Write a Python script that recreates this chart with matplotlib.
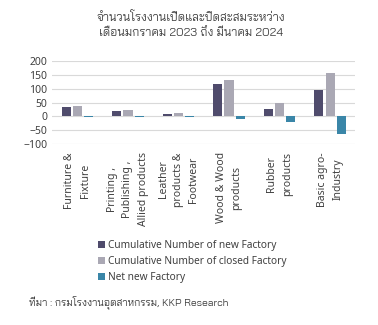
import matplotlib
matplotlib.use("Agg")
import matplotlib.pyplot as plt
import numpy as np

plt.rcParams['font.family'] = ['Noto Sans', 'Bai Jamjuree', 'DejaVu Sans']
thai = ['Bai Jamjuree', 'DejaVu Sans']

categories = [
    "Furniture &\nFixture",
    "Printing ,\nPublishing ,\nAllied products",
    "Leather\nproducts &\nFootwear",
    "Wood & Wood\nproducts",
    "Rubber\nproducts",
    "Basic agro-\nIndustry",
]
new_factory = [33, 18, 7, 118, 25, 94]
closed_factory = [37, 22, 11, 130, 47, 158]
net_factory = [-4, -4, -4, -11, -20, -64]

series_names = [
    "Cumulative Number of new Factory",
    "Cumulative Number of closed Factory",
    "Net new Factory",
]
colors = ["#4f4b6c", "#aaa8b4", "#3a86a8"]

fig = plt.figure(figsize=(3.78, 3.25), dpi=100)
ax = fig.add_axes([0.138, 0.557, 0.802, 0.255])

x = np.arange(len(categories))
w = 0.18
for i, vals in enumerate([new_factory, closed_factory, net_factory]):
    ax.bar(x + (i - 1) * 0.22, vals, w, color=colors[i], label=series_names[i], zorder=3)

ax.set_ylim(-100, 200)
ax.set_yticks(range(-100, 201, 50))
ax.set_xlim(-0.5, len(categories) - 0.5)
ax.grid(axis="y", color="#d9d9d9", linewidth=0.8, zorder=0)
for s in ax.spines.values():
    s.set_visible(False)
ax.tick_params(length=0, labelsize=7.5, colors="#404040")
ax.tick_params(axis="x", pad=6)
ax.set_xticks(x)
ax.set_xticklabels(categories, rotation=90, va="top", ha="center", fontsize=7.5,
                   color="#404040", linespacing=1.55)

fig.text(0.505, 0.965, "จำนวนโรงงานเปิดและปิดสะสมระหว่าง\nเดือนมกราคม 2023 ถึง มีนาคม 2024",
         ha="center", va="top", fontsize=8.5, color="#404040", linespacing=1.4, family=thai)

fig.legend(loc="upper left", bbox_to_anchor=(0.235, 0.29), frameon=False, fontsize=7.3,
           handlelength=0.7, handleheight=0.7, handletextpad=0.3, labelspacing=0.5,
           labelcolor="#404040")

fig.text(0.078, 0.062, "ที่มา : กรมโรงงานอุตสาหกรรม, KKP Research", fontsize=7.4,
         color="#404040", family=thai)

fig.savefig("out.png", dpi=100)
